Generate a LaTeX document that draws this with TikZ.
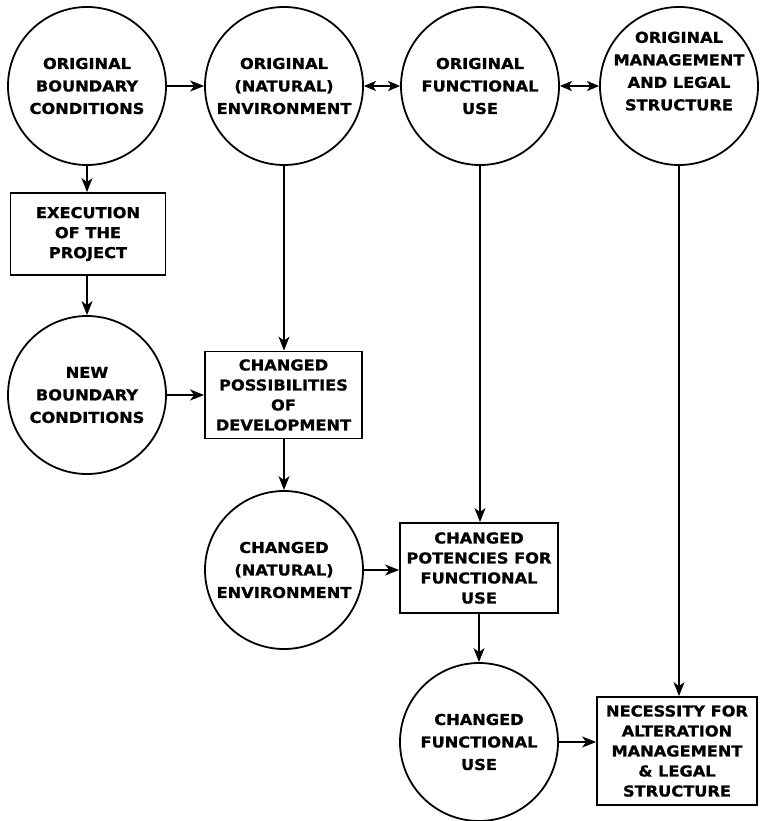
\documentclass[tikz,border=0pt]{standalone}
\usepackage{fontspec}
\newfontfamily\chartfont{DejaVu Sans}[FakeStretch=1.08, BoldFeatures={FakeBold=1}]
\usetikzlibrary{arrows.meta}
\tikzset{
	stage/.style={circle, draw, line width=1.8pt, minimum size=158pt, inner sep=-15pt, align=center, font=\chartfont\bfseries\fontsize{15pt}{22.5pt}\selectfont},
	actionbox/.style={rectangle, draw, line width=1.8pt, inner sep=0pt, align=center, font=\chartfont\bfseries\fontsize{15pt}{20pt}\selectfont},
	flow/.style={line width=1.6pt, -{Stealth[length=14pt,width=11pt,inset=4pt]}},
	longflow/.style={line width=1.1pt, -{Stealth[length=14pt,width=11pt,inset=4pt]}},
	link/.style={line width=1.6pt, {Stealth[length=12pt,width=10pt,inset=3pt]}-{Stealth[length=12pt,width=10pt,inset=3pt]}}
}

\begin{document}
\begin{tikzpicture}[x=1pt, y=-1pt]
			%%%%% START %%%%%
			\useasboundingbox[fill=white] (0, 0) rectangle (761, 821);
			
			\node[stage] (obc) at (87, 86) {ORIGINAL\\BOUNDARY\\CONDITIONS};
			\node[stage] (one) at (284, 86) {ORIGINAL\\(NATURAL)\\ENVIRONMENT};
			\node[stage] (ofu) at (480, 86) {ORIGINAL\\FUNCTIONAL\\USE};
			\node[stage] (omls) at (679, 86) {ORIGINAL\\MANAGEMENT\\AND LEGAL\\STRUCTURE\\[7.5pt]\mbox{}};
			
			\node[actionbox, minimum width=155pt, minimum height=82pt] (exec) at (88, 234) {EXECUTION\\OF THE\\PROJECT};
			\node[stage] (nbc) at (87, 395) {NEW\\BOUNDARY\\CONDITIONS};
			\node[actionbox, minimum width=157pt, minimum height=87pt] (cpd) at (283.5, 395) {CHANGED\\POSSIBILITIES\\OF\\DEVELOPMENT};
			
			\node[stage] (cne) at (284, 570) {CHANGED\\(NATURAL)\\ENVIRONMENT};
			\node[actionbox, minimum width=158pt, minimum height=90pt] (cpf) at (479, 568) {CHANGED\\POTENCIES FOR\\FUNCTIONAL\\USE};
			
			\node[stage] (cfu) at (479, 742) {CHANGED\\FUNCTIONAL\\USE};
			\node[actionbox, minimum width=160pt, minimum height=108pt] (nec) at (677, 751) {NECESSITY FOR\\ALTERATION\\MANAGEMENT\\\& LEGAL\\STRUCTURE};
			
			\draw[flow] (obc) -- (one);
			\draw[link] (one) -- (ofu);
			\draw[link] (ofu) -- (omls);
			
			\draw[flow] (obc.south) -- (obc.south |- exec.north);
			\draw[flow] (exec.south -| nbc.north) -- (nbc.north);
			\draw[flow] (nbc) -- (cpd);
			\draw[longflow] (one.south) -- (one.south |- cpd.north);
			\draw[flow] (cpd.south -| cne.north) -- (cne.north);
			
			\draw[flow] (cne.east) -- (cne.east -| cpf.west);
			\draw[longflow] (ofu.south) -- (ofu.south |- cpf.north);
			\draw[flow] (cpf.south -| cfu.north) -- (cfu.north);
			
			\draw[flow] (cfu.east) -- (cfu.east -| nec.west);
			\draw[longflow] (omls.south) -- (omls.south |- nec.north);
			%%%%% END %%%%%
\end{tikzpicture}
\end{document}
